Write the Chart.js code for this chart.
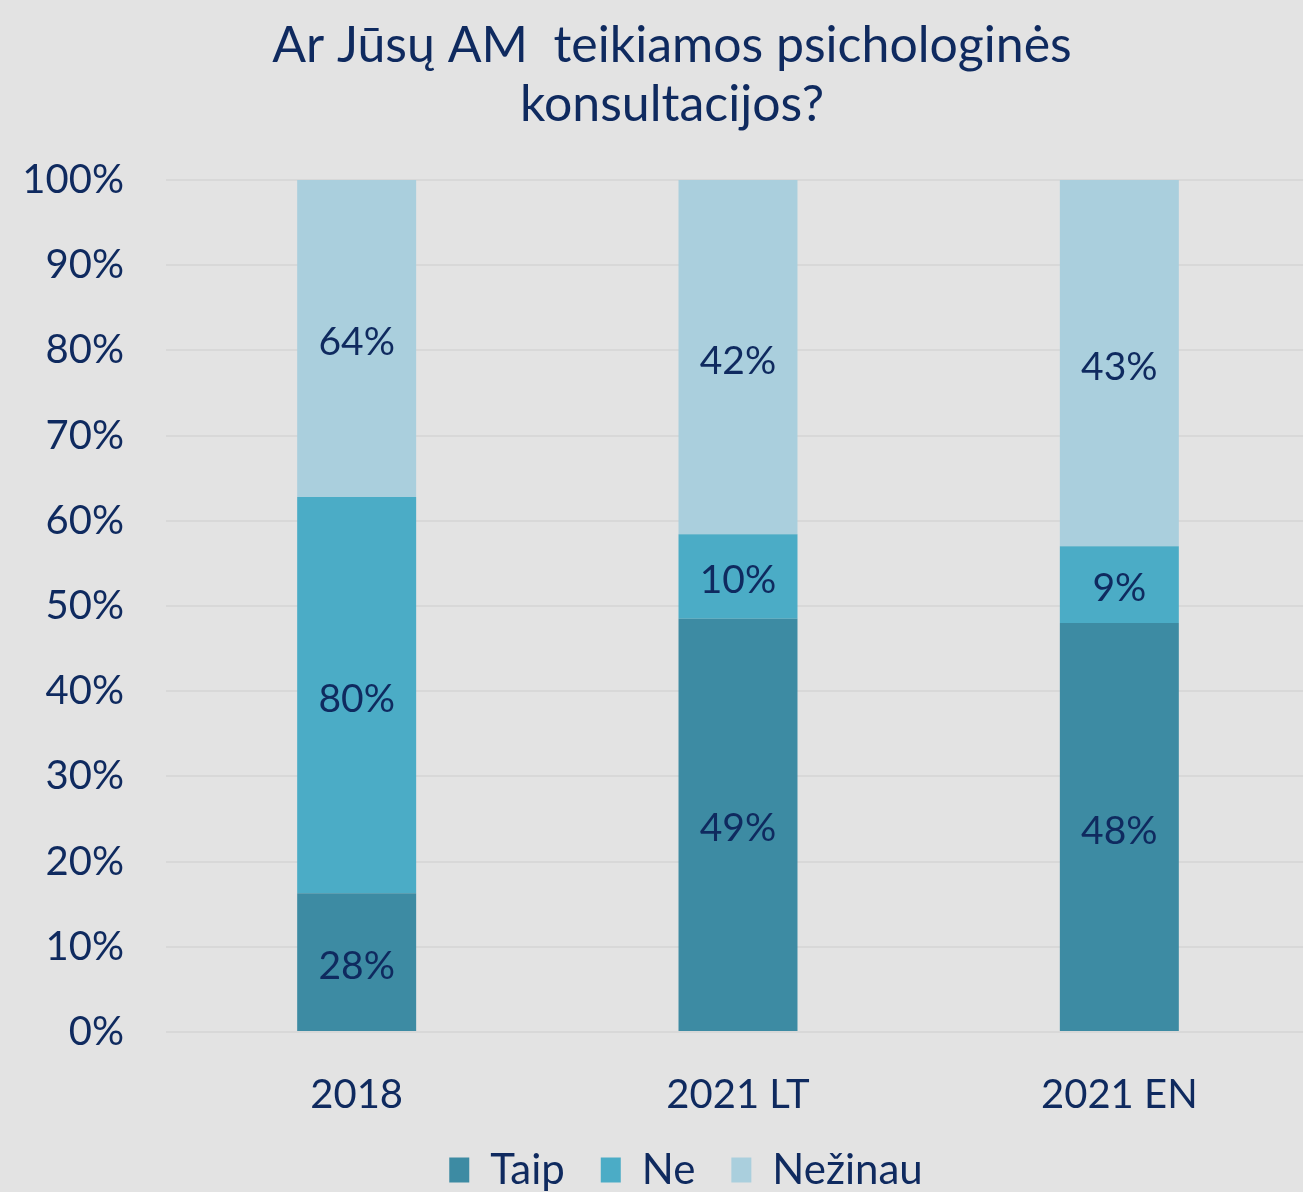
<!DOCTYPE html>
<html>
<head>
<meta charset="utf-8">
<script src="https://cdn.jsdelivr.net/npm/chart.js@4"></script>
<style>
html,body{margin:0;padding:0;background:#E3E3E3;overflow:hidden;}
#wrap{width:1303px;height:1192px;position:relative;overflow:hidden;}
canvas{display:block;}
</style>
</head>
<body>
<div id="wrap"><canvas id="c" width="1310" height="1192"></canvas></div>
<script>
const categories = ["2018", "2021 LT", "2021 EN"];
const taip = [28, 49, 48];
const ne = [80, 10, 9];
const nezinau = [64, 42, 43];
const seriesNames = ["Taip", "Ne", "Nežinau"];
const yTicks = [0,10,20,30,40,50,60,70,80,90,100];

const raw = [taip, ne, nezinau];
const totals = categories.map((_, i) => raw.reduce((s, a) => s + a[i], 0));
const share = raw.map(a => a.map((v, i) => v / totals[i] * 100));

const textColor = "#0F2A5F";
const colors = ["#3D8BA3", "#4BACC6", "#AACFDD"];
const FONT = "Lato";

const labelPlugin = {
  id: "vals",
  afterDatasetsDraw(chart) {
    const ctx = chart.ctx;
    ctx.save();
    ctx.font = "39px " + FONT;
    ctx.fillStyle = textColor;
    ctx.textAlign = "center";
    ctx.textBaseline = "middle";
    chart.data.datasets.forEach((ds, di) => {
      const meta = chart.getDatasetMeta(di);
      meta.data.forEach((el, i) => {
        const y = (el.y + el.base) / 2 + 4;
        ctx.fillText(ds.rawVals[i] + "%", el.x, y);
      });
    });
    ctx.restore();
  }
};
const bgPlugin = {
  id: "bg",
  beforeDraw(chart) {
    const ctx = chart.ctx;
    ctx.save();
    ctx.fillStyle = "#E3E3E3";
    ctx.fillRect(0, 0, chart.width, chart.height);
    ctx.restore();
  }
};
const layoutTweak = {
  id: "tweak",
  beforeLayout(chart) {
    const lg = chart.legend;
    if (lg && !lg._patched) {
      const f = lg.fit.bind(lg);
      lg.fit = function () { f(); this.height = 79; };
      lg._patched = true;
    }
  },
  afterLayout(chart) {
    const t = chart.titleBlock;
    if (t) { t.left += 17; t.right += 17; }
    const lg = chart.legend;
    if (lg) { lg.left += 31; lg.right += 31; }
  }
};

new Chart(document.getElementById("c"), {
  type: "bar",
  data: {
    labels: categories,
    datasets: seriesNames.map((n, k) => ({
      label: n,
      data: share[k],
      rawVals: raw[k],
      backgroundColor: colors[k],
      borderWidth: 0,
      barPercentage: 0.624,
      categoryPercentage: 0.5
    }))
  },
  options: {
    responsive: false,
    animation: false,
    layout: { padding: { left: 0, right: 0, top: 16, bottom: 0 } },
    plugins: {
      title: {
        display: true,
        text: ["Ar Jūsų AM  teikiamos psichologinės", "konsultacijos?"],
        color: textColor,
        font: { family: FONT, size: 50, weight: "normal", lineHeight: 1.18 },
        padding: { top: 0, bottom: 46 }
      },
      legend: {
        position: "bottom",
        labels: {
          color: textColor,
          font: { family: FONT, size: 42, lineHeight: 1.0 },
          boxWidth: 20,
          boxHeight: 25,
          padding: 36
        }
      },
      tooltip: { enabled: false }
    },
    scales: {
      x: {
        stacked: true,
        afterFit(s) { s.height = 81; },
        grid: { display: false },
        border: { display: false },
        ticks: { color: textColor, font: { family: FONT, size: 40, lineHeight: 1.2 }, padding: 31 }
      },
      y: {
        stacked: true,
        min: 0,
        max: 100,
        afterFit(s) { s.width = 166; },
        afterBuildTicks(s) { s.ticks = yTicks.map(v => ({ value: v })); },
        grid: { color: "#D8D8D8", lineWidth: 2, drawTicks: false },
        border: { display: false },
        ticks: {
          color: textColor,
          font: { family: FONT, size: 40 },
          padding: 42,
          callback: v => v + "%"
        }
      }
    }
  },
  plugins: [bgPlugin, layoutTweak, labelPlugin]
});
</script>
</body>
</html>
